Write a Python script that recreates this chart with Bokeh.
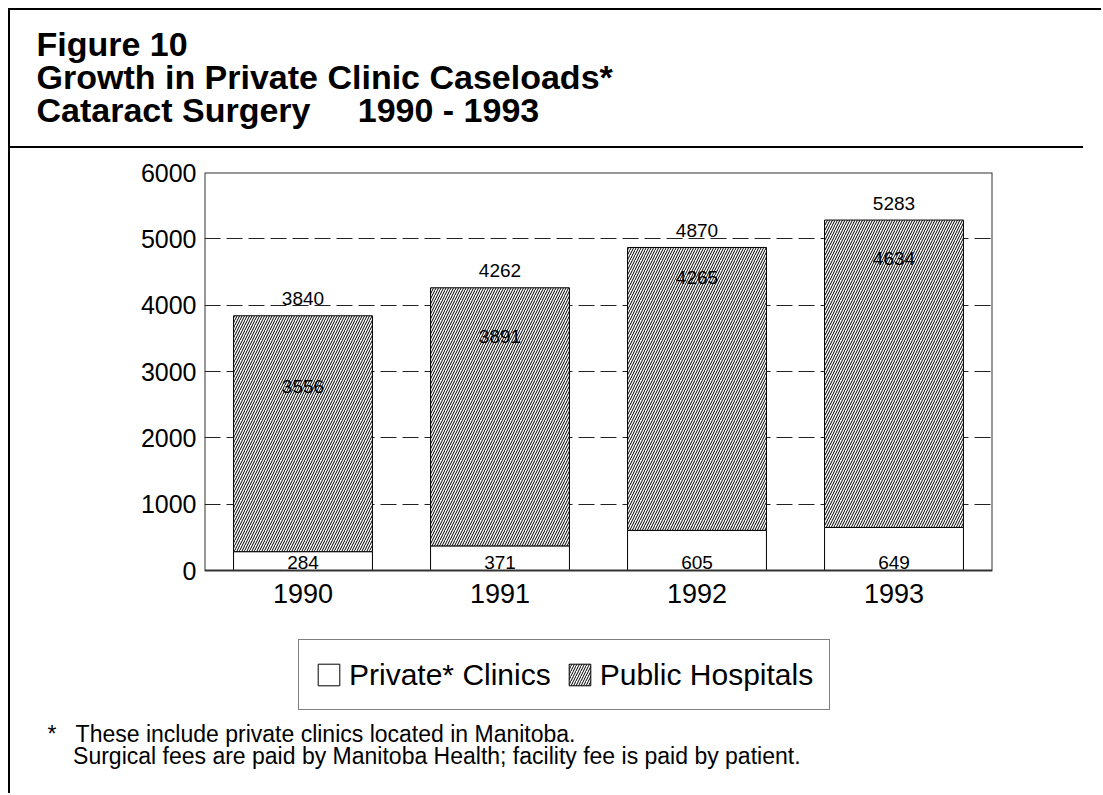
from bokeh.plotting import figure
from bokeh.models import (ColumnDataSource, FactorRange, Range1d, FixedTicker, LabelSet,
                          Legend, LegendItem, Title, BoxAnnotation)
from bokeh.core.properties import value
from bokeh.embed import file_html
from bokeh.resources import INLINE

# ---------------- data ----------------
years = ["1990", "1991", "1992", "1993"]
private_clinics = [284, 371, 605, 649]
public_hospitals = [3556, 3891, 4265, 4634]
y_ticks = [0, 1000, 2000, 3000, 4000, 5000, 6000]

title_lines = ["Figure 10", "Growth in Private Clinic Caseloads*", "Cataract Surgery"]
title_years = "1990 - 1993"
legend_labels = ["Private* Clinics", "Public Hospitals"]
footnote_mark = "*"
footnotes = ["These include private clinics located in Manitoba.",
             "Surgical fees are paid by Manitoba Health; facility fee is paid by patient."]

totals = [a + b for a, b in zip(private_clinics, public_hospitals)]

# ---------------- layout / style ----------------
FONT = "Liberation Sans"
NB = "\u00a0"
W, H = 1093, 785            # page 1103x795 minus 8px margin and 2px frame rule
TOP, BOTTOM = 162, 80        # canvas space above / below the plotting frame
AXIS_PX = 398                # pixel height of the 0..6000 value axis
BELOW_ZERO_PX = 145          # room under the zero line for year labels and the legend
Y_MAX = y_ticks[-1]
public_label_drop_px = [71, 49, 30, 38]   # inner labels, px under the bar top

src = ColumnDataSource(dict(
    year=years,
    private=private_clinics,
    public=public_hospitals,
    total=totals,
    zero=[0] * len(years),
    private_txt=[str(v) for v in private_clinics],
    public_txt=[str(v) for v in public_hospitals],
    total_txt=[str(v) for v in totals],
    pub_off=[-d for d in public_label_drop_px],
))

y_start = -Y_MAX * BELOW_ZERO_PX / AXIS_PX
p = figure(x_range=FactorRange(*years), y_range=Range1d(y_start, Y_MAX), title=None,
           width=W, height=H, output_backend="svg", toolbar_location=None,
           min_border_left=194, min_border_right=111,
           min_border_top=TOP, min_border_bottom=BOTTOM)
p.background_fill_color = "white"
p.border_fill_color = None
p.outline_line_color = None
p.styles = {
    "margin-left": "8px", "margin-top": "8px",
    "border-left": "2px solid black", "border-top": "2px solid black",
    "background": "linear-gradient(#000, #000) 0px 136px / 1073px 2px no-repeat, #fff",
}

p.yaxis.ticker = FixedTicker(ticks=y_ticks)
p.yaxis.major_label_text_font = FONT
p.yaxis.major_label_text_font_size = "25px"
p.yaxis.major_label_text_color = "black"
p.yaxis.major_tick_line_color = None
p.yaxis.major_tick_out = 0
p.yaxis.major_tick_in = 0
p.yaxis.minor_tick_line_color = None
p.yaxis.axis_line_color = None
p.yaxis.major_label_standoff = 8
p.xaxis.visible = False

p.xgrid.grid_line_color = None
p.ygrid.ticker = FixedTicker(ticks=y_ticks[1:-1])
p.ygrid.grid_line_color = "#222222"
p.ygrid.grid_line_dash = "16 6"
p.ygrid.grid_line_width = 1

r_priv = p.vbar(x="year", bottom="zero", top="private", width=0.705, source=src,
                fill_color="white", line_color="black", line_width=1)
r_pub = p.vbar(x="year", bottom="private", top="total", width=0.705, source=src,
               fill_color="white", line_color="black", line_width=1,
               hatch_pattern="/", hatch_color="black", hatch_scale=5, hatch_weight=1)

# plot box from 0 to the top tick (edges on the frame border are half clipped, so 2px)
p.add_layout(BoxAnnotation(bottom=0, top=Y_MAX, fill_color=None, fill_alpha=0,
                           line_color="#333333", line_alpha=1.0, line_width=2))

lbl_font = value(FONT)
for y, txt, off in [("total", "total_txt", 17), ("total", "public_txt", "pub_off"),
                    ("zero", "private_txt", 8)]:
    p.add_layout(LabelSet(x="year", y=y, text=txt, source=src, y_offset=off,
                          text_font=lbl_font, text_font_size="19px", text_align="center",
                          text_baseline="middle", text_color="black"))

# category labels under the zero line
p.add_layout(LabelSet(x="year", y="zero", text="year", source=src, y_offset=-23,
                      text_font=lbl_font, text_font_size="27px", text_align="center",
                      text_baseline="middle", text_color="black"))

# title block (above the plot)
title_text = "\n".join([title_lines[0], title_lines[1],
                        title_lines[2] + NB * 5 + title_years, ""])
p.add_layout(Title(text=title_text, align="left", offset=-168, standoff=20,
                   text_font=FONT, text_font_size="34px", text_font_style="bold",
                   text_line_height=0.87, text_color="black"), "above")

# legend (inside the frame, under the year labels)
legend = Legend(items=[LegendItem(label=legend_labels[0], renderers=[r_priv]),
                       LegendItem(label=legend_labels[1], renderers=[r_pub])],
                orientation="horizontal", location=(94, 5),
                glyph_width=27, glyph_height=27, label_height=37, label_width=20,
                padding=16, spacing=15, label_standoff=7, margin=0,
                label_text_font=FONT, label_text_font_size="30px", label_text_color="black",
                border_line_color="black", border_line_width=1,
                background_fill_color="white", background_fill_alpha=1)
p.add_layout(legend, "center")

# footnotes (below the frame)
foot_text = (footnote_mark + NB * 3 + footnotes[0] + "\n" + NB * 4 + footnotes[1])
p.add_layout(Title(text=foot_text, align="left", offset=-157, standoff=10,
                   vertical_align="top", text_font=FONT, text_font_size="23px",
                   text_font_style="normal", text_line_height=0.86,
                   text_color="black"), "below")

open("out.html", "w").write(file_html(p, INLINE))
